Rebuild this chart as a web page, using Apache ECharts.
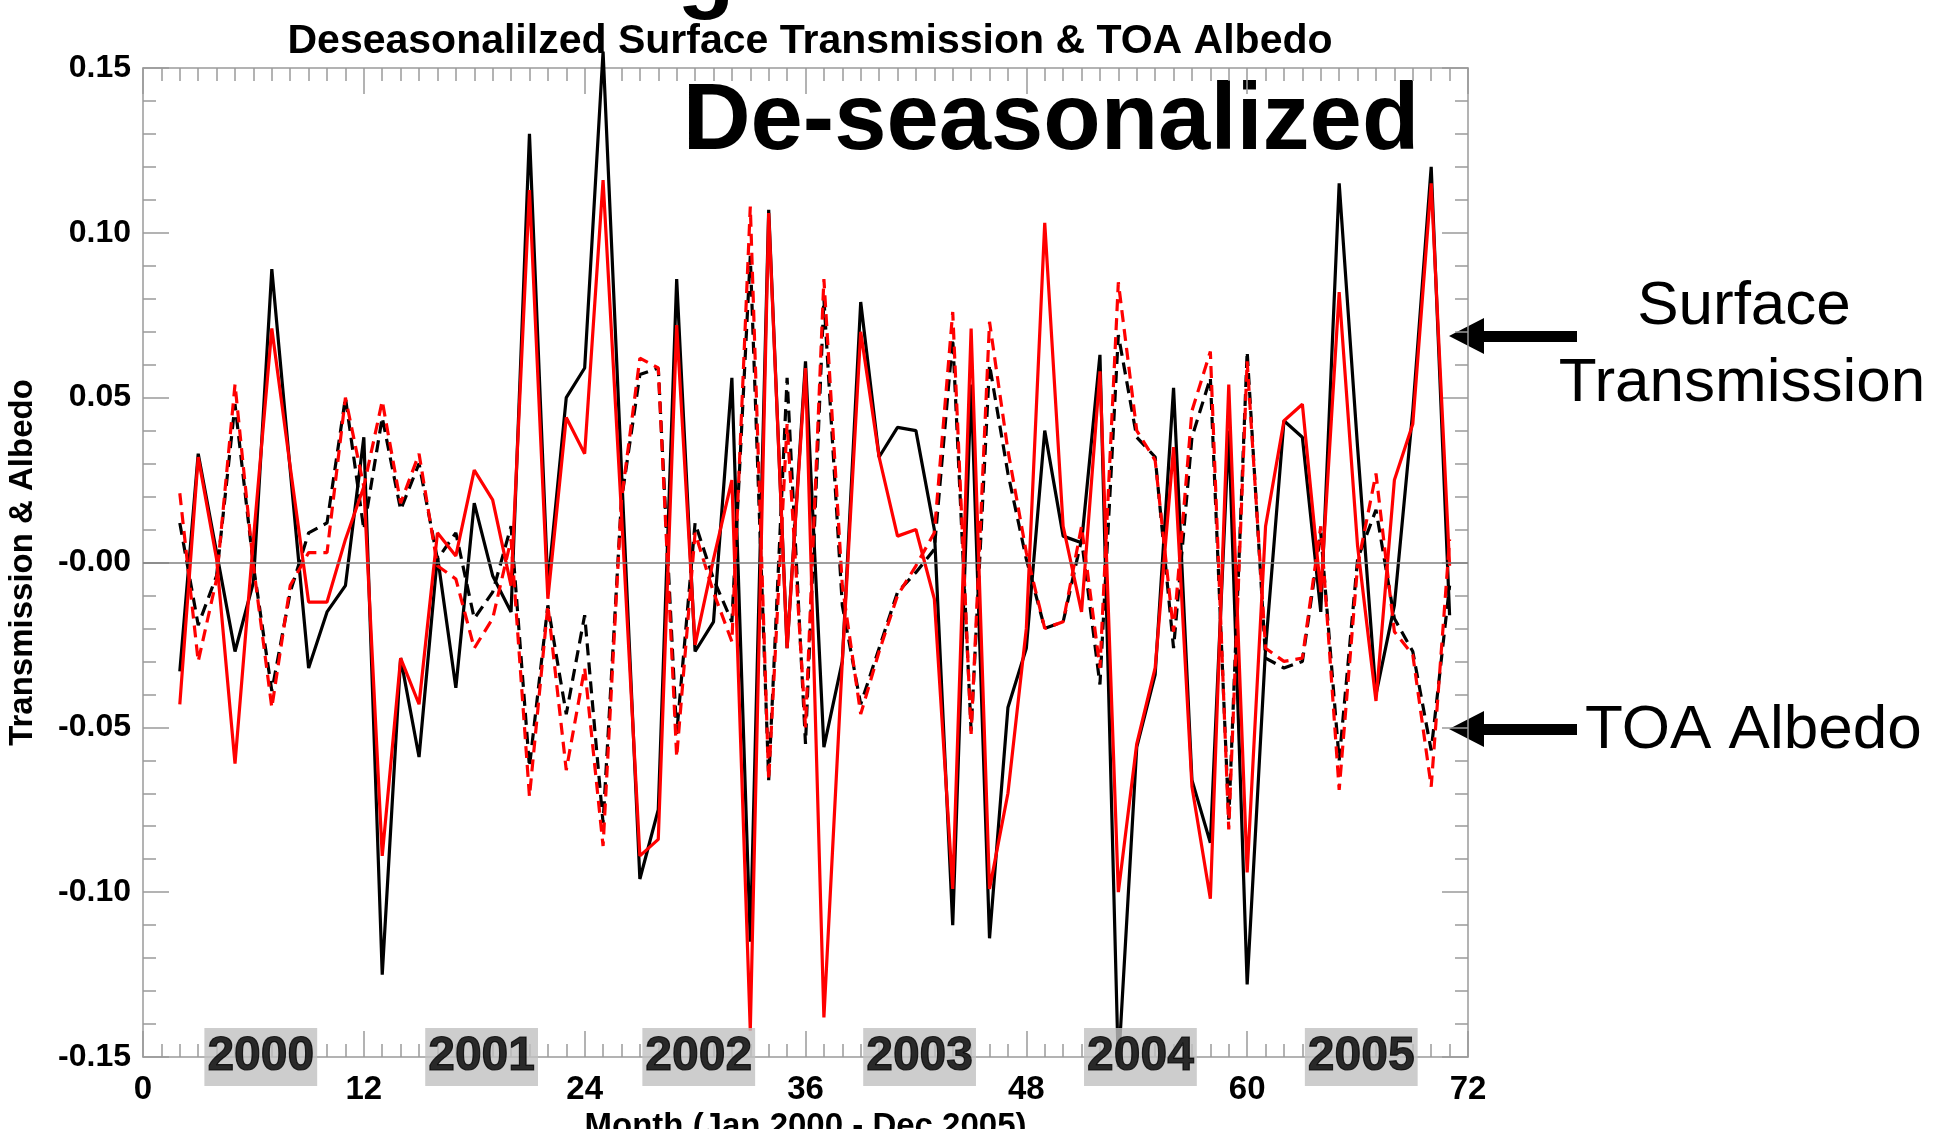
<!DOCTYPE html>
<html>
<head>
<meta charset="utf-8">
<script src="https://cdn.jsdelivr.net/npm/echarts@6/dist/echarts.min.js"></script>
<style>
  html, body { margin: 0; padding: 0; background: #fff; overflow: hidden; }
  #chart { width: 1934px; height: 1129px; }
</style>
</head>
<body>
<div id="chart"></div>
<script>
// months 2..71 (Jan 2000 = month 0)
var months = [2, 3, 4, 5, 6, 7, 8, 9, 10, 11, 12, 13, 14, 15, 16, 17, 18, 19, 20, 21,
  22, 23, 24, 25, 26, 27, 28, 29, 30, 31, 32, 33, 34, 35, 36, 37, 38, 39, 40, 41,
  42, 43, 44, 45, 46, 47, 48, 49, 50, 51, 52, 53, 54, 55, 56, 57, 58, 59, 60, 61,
  62, 63, 64, 65, 66, 67, 68, 69, 70, 71];

// surface transmission, black solid
var transBlack = [-0.033, 0.033, 0.003, -0.027, -0.006, 0.089, 0.028, -0.032, -0.015, -0.007,
  0.038, -0.125, -0.029, -0.059, 0.002, -0.038, 0.018, -0.004, -0.015, 0.130,
  -0.007, 0.050, 0.059, 0.155, 0.028, -0.096, -0.075, 0.086, -0.027, -0.018,
  0.056, -0.115, 0.107, -0.026, 0.061, -0.056, -0.030, 0.079, 0.032, 0.041,
  0.040, 0.010, -0.110, 0.054, -0.114, -0.044, -0.026, 0.040, 0.008, 0.006,
  0.063, -0.153, -0.056, -0.034, 0.053, -0.066, -0.085, 0.040, -0.128, -0.026,
  0.043, 0.038, -0.015, 0.115, 0.035, -0.040, -0.013, 0.046, 0.120, -0.016];

// surface transmission, red solid
var transRed = [-0.043, 0.032, 0.001, -0.061, 0.007, 0.071, 0.029, -0.012, -0.012, 0.007,
  0.023, -0.089, -0.029, -0.043, 0.009, 0.002, 0.028, 0.019, -0.007, 0.113,
  -0.011, 0.044, 0.033, 0.116, 0.015, -0.089, -0.084, 0.072, -0.025, 0.001,
  0.025, -0.142, 0.106, -0.026, 0.059, -0.138, -0.030, 0.070, 0.032, 0.008,
  0.010, -0.011, -0.099, 0.071, -0.099, -0.070, -0.020, 0.103, 0.011, -0.015,
  0.058, -0.100, -0.055, -0.032, 0.035, -0.068, -0.102, 0.054, -0.094, 0.011,
  0.043, 0.048, -0.009, 0.082, 0.005, -0.042, 0.025, 0.042, 0.115, -0.001];

// TOA albedo, black dashed
var albBlack = [0.012, -0.019, -0.004, 0.048, -0.001, -0.039, -0.009, 0.009, 0.012, 0.050,
  0.010, 0.044, 0.016, 0.030, 0.001, 0.009, -0.017, -0.009, 0.011, -0.062,
  -0.013, -0.046, -0.016, -0.079, 0.019, 0.057, 0.059, -0.052, 0.012, -0.005,
  -0.018, 0.093, -0.066, 0.056, -0.055, 0.080, -0.013, -0.043, -0.026, -0.009,
  -0.003, 0.004, 0.068, -0.051, 0.060, 0.027, 0.001, -0.020, -0.018, 0.007,
  -0.037, 0.069, 0.038, 0.032, -0.026, 0.038, 0.056, -0.078, 0.064, -0.029,
  -0.032, -0.030, 0.009, -0.060, 0.001, 0.016, -0.017, -0.027, -0.057, -0.007];

// TOA albedo, red dashed
var albRed = [0.021, -0.030, -0.005, 0.054, -0.001, -0.044, -0.007, 0.003, 0.003, 0.050,
  0.023, 0.049, 0.018, 0.033, -0.001, -0.005, -0.026, -0.017, 0.007, -0.071,
  -0.013, -0.063, -0.032, -0.086, 0.019, 0.062, 0.059, -0.059, 0.009, -0.009,
  -0.024, 0.108, -0.066, 0.042, -0.050, 0.086, -0.007, -0.046, -0.027, -0.010,
  -0.001, 0.009, 0.076, -0.052, 0.073, 0.034, 0.003, -0.020, -0.018, 0.011,
  -0.032, 0.085, 0.040, 0.031, -0.021, 0.046, 0.064, -0.081, 0.061, -0.026,
  -0.030, -0.029, 0.011, -0.069, -0.001, 0.027, -0.021, -0.028, -0.068, 0.007];

var years = ['2000', '2001', '2002', '2003', '2004', '2005'];
var yearCenters = [6.4, 18.4, 30.2, 42.2, 54.2, 66.2];

var font = "'Liberation Sans', Arial, sans-serif";

function pairs(ys) {
  return months.map(function (m, i) { return [m, ys[i]]; });
}

function lineSeries(name, ys, color, dashed) {
  return {
    name: name,
    type: 'line',
    data: pairs(ys),
    symbol: 'none',
    clip: false,
    z: 3,
    lineStyle: { color: color, width: 3.2, type: dashed ? [12, 7] : 'solid' },
    emphasis: { disabled: true }
  };
}

var chart = echarts.init(document.getElementById('chart'));

var tickStyle = { color: '#9a9a9a', width: 1.5 };

function frameAxis(extra) {
  return Object.assign({
    type: 'value',
    axisLine: { show: true, onZero: false, lineStyle: tickStyle },
    axisTick: { show: true, inside: true, length: 26, lineStyle: tickStyle },
    splitLine: { show: false }
  }, extra);
}

var option = {
  backgroundColor: '#fff',
  animation: false,
  title: {
    text: 'Deseasonalilzed Surface Transmission & TOA Albedo',
    left: 805, top: 16, textAlign: 'center',
    textStyle: { fontFamily: font, fontWeight: 'bold', fontSize: 41, color: '#000' }
  },
  grid: { left: 143, right: 466, top: 68, bottom: 72, outerBoundsMode: 'none', containLabel: false },
  xAxis: [
    frameAxis({
      min: 0, max: 72, interval: 12, position: 'bottom',
      name: 'Month (Jan 2000 - Dec 2005)', nameLocation: 'middle', nameGap: 50,
      nameTextStyle: { fontFamily: font, fontWeight: 'bold', fontSize: 33, color: '#000' },
      minorTick: { show: true, splitNumber: 12, length: 13, lineStyle: tickStyle },
      axisLabel: { margin: 16, fontFamily: font, fontWeight: 'bold', fontSize: 33, color: '#000' }
    }),
    frameAxis({
      min: 0, max: 72, interval: 12, position: 'top',
      minorTick: { show: true, splitNumber: 12, length: 13, lineStyle: tickStyle },
      axisLabel: { show: false }
    })
  ],
  yAxis: [
    frameAxis({
      min: -0.15, max: 0.15, interval: 0.05, position: 'left',
      name: 'Transmission & Albedo', nameLocation: 'middle', nameGap: 104,
      nameTextStyle: { fontFamily: font, fontWeight: 'bold', fontSize: 33, color: '#000' },
      minorTick: { show: true, splitNumber: 5, length: 13, lineStyle: tickStyle },
      axisLabel: {
        margin: 12, fontFamily: font, fontWeight: 'bold', fontSize: 32, color: '#000',
        formatter: function (v) {
          if (Math.abs(v) < 1e-9) return '-0.00';
          return v.toFixed(2);
        }
      }
    }),
    frameAxis({
      min: -0.15, max: 0.15, interval: 0.05, position: 'right',
      minorTick: { show: true, splitNumber: 5, length: 13, lineStyle: tickStyle },
      axisLabel: { show: false }
    })
  ],
  series: [
    Object.assign(lineSeries('Transmission (black)', transBlack, '#000000', false), {
      markLine: {
        silent: true, symbol: 'none', label: { show: false },
        lineStyle: { color: '#808080', width: 1.5, type: 'solid' },
        data: [{ yAxis: 0 }]
      }
    }),
    lineSeries('Albedo (black)', albBlack, '#000000', true),
    lineSeries('Transmission (red)', transRed, '#ff0000', false),
    lineSeries('Albedo (red)', albRed, '#ff0000', true),
    {
      name: 'Years',
      type: 'scatter',
      z: 10,
      symbolSize: 1,
      itemStyle: { color: 'rgba(0,0,0,0)' },
      silent: true,
      data: yearCenters.map(function (c) { return [c, -0.15]; }),
      label: {
        show: true, position: 'inside',
        formatter: function (p) { return years[p.dataIndex]; },
        backgroundColor: '#c0c0c0',
        padding: [5, 3, 5, 3],
        lineHeight: 48,
        fontFamily: font, fontWeight: 'bold', fontSize: 48, color: '#000000',
        textBorderColor: '#000000', textBorderWidth: 1.2
      }
    }
  ],
  graphic: [
    {
      type: 'text', x: 706, y: 21, silent: true,
      style: { text: 'g', fill: '#000', font: 'bold 94px ' + font, textAlign: 'center', textVerticalAlign: 'bottom' }
    },
    {
      type: 'text', x: 1051, y: 123, silent: true,
      style: { text: 'De-seasonalized', fill: '#000', font: 'bold 94px ' + font, textAlign: 'center', textVerticalAlign: 'middle' }
    },
    {
      type: 'text', x: 1744, y: 307, silent: true,
      style: { text: 'Surface', fill: '#000', font: '62px ' + font, textAlign: 'center', textVerticalAlign: 'middle' }
    },
    {
      type: 'text', x: 1742, y: 384, silent: true,
      style: { text: 'Transmission', fill: '#000', font: '62px ' + font, textAlign: 'center', textVerticalAlign: 'middle' }
    },
    {
      type: 'text', x: 1585, y: 731, silent: true,
      style: { text: 'TOA Albedo', fill: '#000', font: '62px ' + font, textAlign: 'left', textVerticalAlign: 'middle' }
    },
    {
      type: 'polygon', silent: true,
      shape: { points: [[1449, 336], [1484, 318], [1484, 331], [1577, 331], [1577, 342], [1484, 342], [1484, 354]] },
      style: { fill: '#000' }
    },
    {
      type: 'polygon', silent: true,
      shape: { points: [[1449, 729], [1484, 711], [1484, 724], [1577, 724], [1577, 735], [1484, 735], [1484, 747]] },
      style: { fill: '#000' }
    }
  ]
};

chart.setOption(option);
</script>
</body>
</html>
